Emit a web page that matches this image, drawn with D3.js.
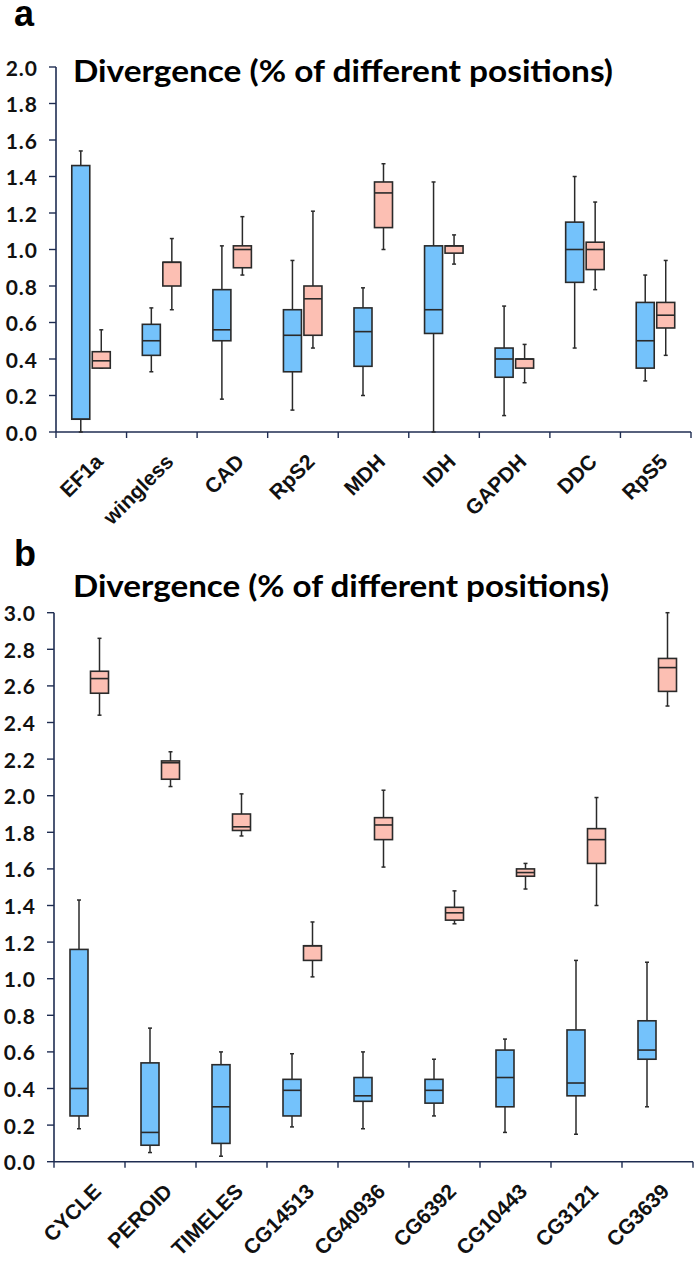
<!DOCTYPE html>
<html>
<head>
<meta charset="utf-8">
<script src="https://cdn.jsdelivr.net/npm/d3@7"></script>
<style>
  html, body { margin: 0; padding: 0; background: #fff; }
  svg { display: block; }
  .tick-label { font-family: Lato, "Open Sans", sans-serif; font-weight: 700; font-size: 21px; letter-spacing: 1px; fill: #111; }
  .cat-label { font-family: "Liberation Sans", Arial, sans-serif; font-weight: 700; font-size: 21px; fill: #111; }
  .title { font-family: Lato, "Open Sans", sans-serif; font-weight: 700; font-size: 30px; fill: #000; }
  .panel { font-family: "Liberation Sans", Arial, sans-serif; font-weight: 700; font-size: 36px; fill: #000; }
</style>
</head>
<body>
<svg id="chart" width="697" height="1268"></svg>
<script>
// Box stats per gene: [min, q1, median, q3, max]
const genesA = ["EF1a", "wingless", "CAD", "RpS2", "MDH", "IDH", "GAPDH", "DDC", "RpS5"];
const blueA = [
  [0.00, 0.07, 0.07, 1.46, 1.54],
  [0.33, 0.42, 0.50, 0.59, 0.68],
  [0.18, 0.50, 0.56, 0.78, 1.02],
  [0.12, 0.33, 0.53, 0.67, 0.94],
  [0.20, 0.36, 0.55, 0.68, 0.79],
  [0.00, 0.54, 0.67, 1.02, 1.37],
  [0.09, 0.30, 0.40, 0.46, 0.69],
  [0.46, 0.82, 1.00, 1.15, 1.40],
  [0.28, 0.35, 0.50, 0.71, 0.86],
];
const pinkA = [
  [0.35, 0.35, 0.39, 0.44, 0.56],
  [0.67, 0.80, 0.93, 0.93, 1.06],
  [0.86, 0.90, 1.00, 1.02, 1.18],
  [0.46, 0.53, 0.73, 0.80, 1.21],
  [1.00, 1.12, 1.31, 1.37, 1.47],
  [0.92, 0.98, 1.02, 1.02, 1.08],
  [0.27, 0.35, 0.40, 0.40, 0.48],
  [0.78, 0.89, 1.00, 1.04, 1.26],
  [0.42, 0.57, 0.64, 0.71, 0.94],
];
const ticksA = [0, 0.2, 0.4, 0.6, 0.8, 1.0, 1.2, 1.4, 1.6, 1.8, 2.0];

const genesB = ["CYCLE", "PEROID", "TIMELES", "CG14513", "CG40936", "CG6392", "CG10443", "CG3121", "CG3639"];
const blueB = [
  [0.18, 0.25, 0.40, 1.16, 1.43],
  [0.05, 0.09, 0.16, 0.54, 0.73],
  [0.03, 0.10, 0.30, 0.53, 0.60],
  [0.19, 0.25, 0.39, 0.45, 0.59],
  [0.18, 0.33, 0.36, 0.46, 0.60],
  [0.25, 0.32, 0.39, 0.45, 0.56],
  [0.16, 0.30, 0.46, 0.61, 0.67],
  [0.15, 0.36, 0.43, 0.72, 1.10],
  [0.30, 0.56, 0.61, 0.77, 1.09],
];
const pinkB = [
  [2.44, 2.56, 2.64, 2.68, 2.86],
  [2.05, 2.09, 2.18, 2.19, 2.24],
  [1.78, 1.81, 1.83, 1.90, 2.01],
  [1.01, 1.10, 1.18, 1.18, 1.31],
  [1.61, 1.76, 1.84, 1.88, 2.03],
  [1.30, 1.32, 1.36, 1.39, 1.48],
  [1.49, 1.56, 1.58, 1.60, 1.63],
  [1.40, 1.63, 1.76, 1.82, 1.99],
  [2.49, 2.57, 2.70, 2.75, 3.00],
];
const ticksB = [0, 0.2, 0.4, 0.6, 0.8, 1.0, 1.2, 1.4, 1.6, 1.8, 2.0, 2.2, 2.4, 2.6, 2.8, 3.0];

const TITLE = "Divergence (% of different positions)";

(function () {
  const svg = d3.select("#chart");
  svg.append("rect").attr("width", 697).attr("height", 1268).attr("fill", "#fff");

  const AXIS = "#1f2d52";
  const BOX_W = 18;

  function panel(opt) {
    const g = svg.append("g");
    const x = d3.scaleBand().domain(opt.genes).range([opt.left, opt.right]);
    const y = d3.scaleLinear().domain([0, opt.max]).range([opt.bottom, opt.top]);

    // panel letter + title
    g.append("text").attr("class", "panel").attr("x", opt.letterX).attr("y", opt.letterY).text(opt.letter);
    g.append("text").attr("class", "title")
      .attr("x", 73).attr("y", opt.titleY)
      .attr("textLength", opt.titleW).attr("lengthAdjust", "spacingAndGlyphs")
      .text(TITLE);

    // y axis
    g.append("line").attr("x1", opt.left).attr("x2", opt.left)
      .attr("y1", y(opt.max)).attr("y2", y(0))
      .attr("stroke", AXIS).attr("stroke-width", 1.6);
    const yt = g.append("g").selectAll("g").data(opt.ticks).join("g");
    yt.append("line")
      .attr("x1", opt.left - 7).attr("x2", opt.left)
      .attr("y1", (d) => y(d)).attr("y2", (d) => y(d))
      .attr("stroke", AXIS).attr("stroke-width", 1.4);
    yt.append("text").attr("class", "tick-label")
      .attr("x", opt.left - 18).attr("y", (d) => y(d) + 1).attr("dy", "0.36em")
      .attr("text-anchor", "end")
      .text((d) => d.toFixed(1));

    // x axis with boundary ticks
    g.append("line").attr("x1", opt.left).attr("x2", opt.right)
      .attr("y1", y(0)).attr("y2", y(0))
      .attr("stroke", AXIS).attr("stroke-width", 1.6);
    const bounds = opt.genes.map((d) => x(d)).concat([opt.right]);
    g.append("g").selectAll("line").data(bounds).join("line")
      .attr("x1", (d) => d).attr("x2", (d) => d)
      .attr("y1", y(0)).attr("y2", y(0) + 6)
      .attr("stroke", AXIS).attr("stroke-width", 1.4);

    // rotated category labels, end anchored just right of the band centre
    g.append("g").selectAll("text").data(opt.genes).join("text")
      .attr("class", "cat-label")
      .attr("text-anchor", "end")
      .attr("transform", (d) => `translate(${x(d) + x.bandwidth() / 2 + 13},${y(0) + 31}) rotate(-45)`)
      .text((d) => d);

    // boxes: blue left of centre, pink right
    drawBoxes(g, opt.genes, opt.blue, x, y, -10.5, "#74c2fb");
    drawBoxes(g, opt.genes, opt.pink, x, y, 10, "#fcbfb3");
  }

  function drawBoxes(g, genes, stats, x, y, offset, fill) {
    const cx = (i) => x(genes[i]) + x.bandwidth() / 2 + offset;
    const b = g.append("g").selectAll("g").data(stats).join("g");
    const stroke = "#2a2a2a";

    b.append("line").attr("x1", (d, i) => cx(i)).attr("x2", (d, i) => cx(i))
      .attr("y1", (d) => y(d[0])).attr("y2", (d) => y(d[1]))
      .attr("stroke", stroke).attr("stroke-width", 1.5);
    b.append("line").attr("x1", (d, i) => cx(i)).attr("x2", (d, i) => cx(i))
      .attr("y1", (d) => y(d[3])).attr("y2", (d) => y(d[4]))
      .attr("stroke", stroke).attr("stroke-width", 1.5);
    // whisker caps
    [0, 4].forEach((k) => {
      b.append("line")
        .attr("x1", (d, i) => cx(i) - 2).attr("x2", (d, i) => cx(i) + 2)
        .attr("y1", (d) => y(d[k])).attr("y2", (d) => y(d[k]))
        .attr("stroke", stroke).attr("stroke-width", 1.5);
    });

    b.append("rect")
      .attr("x", (d, i) => cx(i) - BOX_W / 2).attr("width", BOX_W)
      .attr("y", (d) => y(d[3])).attr("height", (d) => y(d[1]) - y(d[3]))
      .attr("fill", fill).attr("stroke", stroke).attr("stroke-width", 1.6);
    b.append("line")
      .attr("x1", (d, i) => cx(i) - BOX_W / 2).attr("x2", (d, i) => cx(i) + BOX_W / 2)
      .attr("y1", (d) => y(d[2])).attr("y2", (d) => y(d[2]))
      .attr("stroke", stroke).attr("stroke-width", 1.6);
  }

  panel({
    letter: "a", letterX: 14, letterY: 26,
    titleY: 82, titleW: 540,
    genes: genesA, blue: blueA, pink: pinkA, ticks: ticksA, max: 2.0,
    left: 56, right: 691, top: 67, bottom: 432,
  });
  panel({
    letter: "b", letterX: 14, letterY: 566,
    titleY: 597, titleW: 536,
    genes: genesB, blue: blueB, pink: pinkB, ticks: ticksB, max: 3.0,
    left: 54, right: 693, top: 612.7, bottom: 1161.7,
  });
})();
</script>
</body>
</html>
